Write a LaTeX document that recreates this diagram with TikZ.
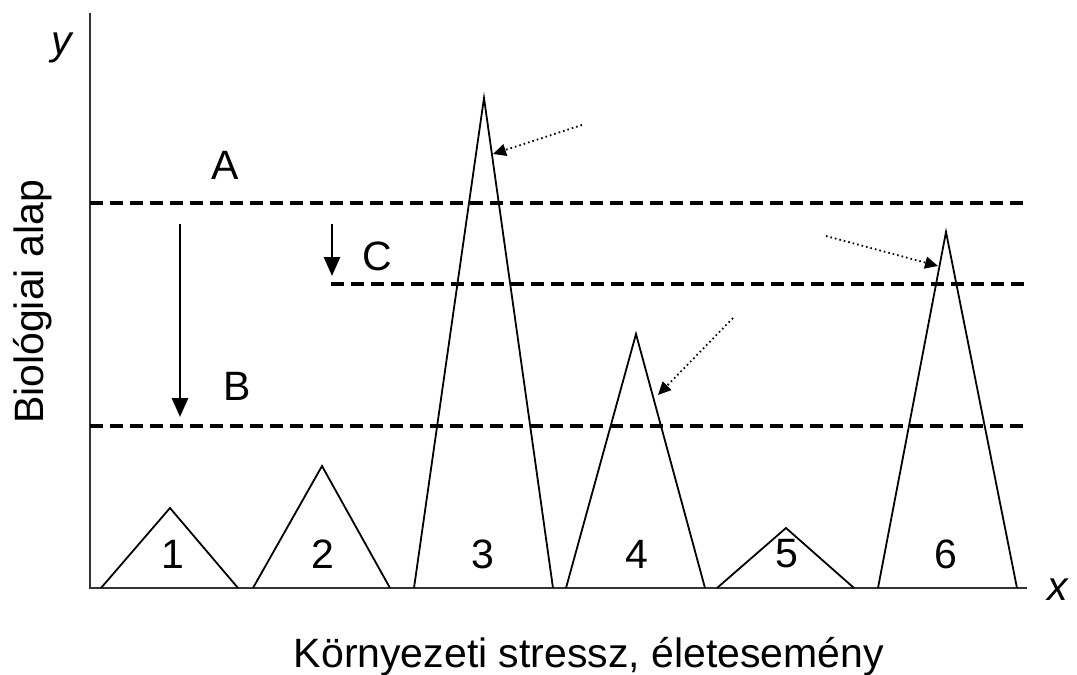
\documentclass[tikz,border=0pt]{standalone}
\usepackage{fontspec}
\setmainfont{Liberation Sans}
\usetikzlibrary{arrows.meta}
\begin{document}
\begin{tikzpicture}[x=1pt,y=-1pt,
  lbl/.style={font=\fontsize{41}{48}\selectfont, inner sep=0pt},
  axisline/.style={line width=2.4pt, draw=black!80},
  tri/.style={line width=1.8pt},
  levelline/.style={line width=3.2pt, dash pattern=on 13pt off 7pt},
  droparrow/.style={line width=2.6pt, -{Triangle[length=19pt,width=16pt]}},
  pointer/.style={line width=1.8pt, dash pattern=on 1.6pt off 3pt, -{Triangle[length=13pt,width=12pt]}}]
\useasboundingbox (0,0) rectangle (1077,675);
% axes
\coordinate (O) at (90,588);
\coordinate (ytop) at (90,13);
\coordinate (xend) at (1027,588);
\draw[axisline] (ytop) -- (O) -- (xend);
\node[lbl, font=\fontsize{41}{48}\selectfont\itshape] (ylab) at (62,48) {y};
\node[lbl, font=\fontsize{41}{48}\selectfont\itshape] (xlab) at (1058,590) {x};
\node[lbl, rotate=90] (yname) at (33,302) {Biológiai alap};
\node[lbl] (xname) at (589,657) {Környezeti stressz, életesemény};
% triangles
\coordinate (t1) at (170,508);
\coordinate (t2) at (322,466);
\coordinate (t3) at (484,98);
\coordinate (t4) at (636,334);
\coordinate (t5) at (786,528);
\coordinate (t6) at (946,232);
\draw[tri] (101,588) -- (t1) -- (238,588);
\draw[tri] (253,588) -- (t2) -- (390,588);
\draw[tri] (414,588) -- (t3) -- (553,588);
\draw[tri] (566,588) -- (t4) -- (705,588);
\draw[tri] (717,588) -- (t5) -- (854,588);
\draw[tri] (878,588) -- (t6) -- (1017,588);
\node[lbl] (n1) at (173,554) {1};
\node[lbl] (n2) at (323,554) {2};
\node[lbl] (n3) at (483,554) {3};
\node[lbl] (n4) at (637,554) {4};
\node[lbl] (n5) at (787,554) {5};
\node[lbl] (n6) at (946,554) {6};
% level lines
\coordinate (A0) at (90,203);
\coordinate (A1) at (1030,203);
\coordinate (C0) at (331,284);
\coordinate (C1) at (1030,284);
\coordinate (B0) at (90,426);
\coordinate (B1) at (1030,426);
\draw[levelline] (A0) -- (A1);
\draw[levelline] (C0) -- (C1);
\draw[levelline] (B0) -- (B1);
\node[lbl] (A) at (225,165) {A};
\node[lbl] (B) at (237,386) {B};
\node[lbl] (C) at (377,256) {C};
% drop arrows
\coordinate (d1s) at (180,224);
\coordinate (d1e) at (180,417);
\coordinate (d2s) at (332,224);
\coordinate (d2e) at (332,276);
\draw[droparrow] (d1s) -- (d1e);
\draw[droparrow] (d2s) -- (d2e);
% pointers
\coordinate (p1s) at (582,125);
\coordinate (p1e) at (493,154);
\coordinate (p2s) at (826,236);
\coordinate (p2e) at (938,266);
\coordinate (p3s) at (733,318);
\coordinate (p3e) at (658,395);
\draw[pointer] (p1s) -- (p1e);
\draw[pointer] (p2s) -- (p2e);
\draw[pointer] (p3s) -- (p3e);
\end{tikzpicture}
\end{document}
